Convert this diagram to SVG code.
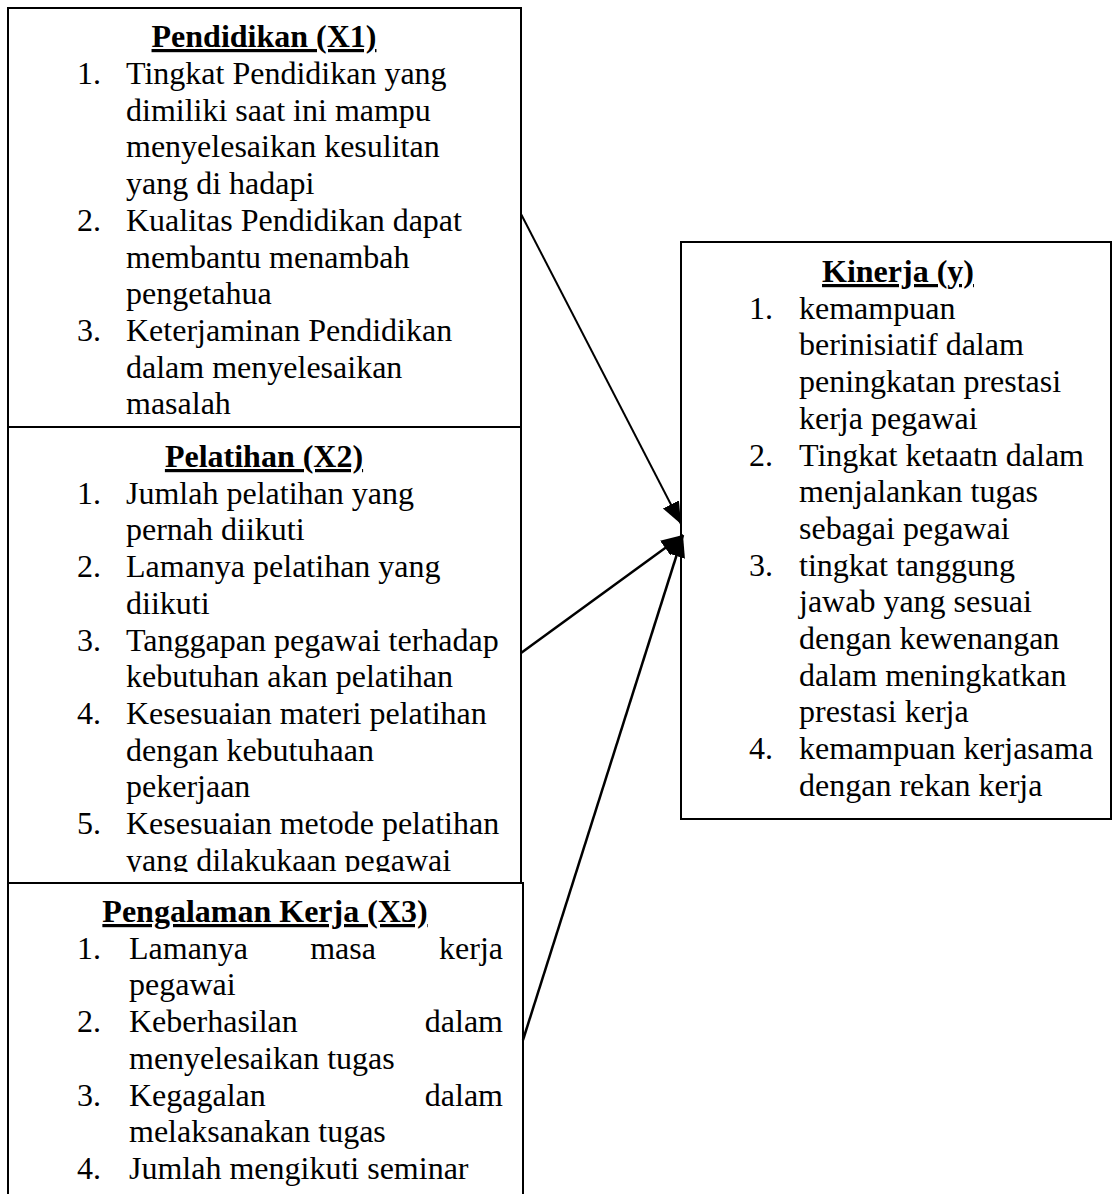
<svg xmlns="http://www.w3.org/2000/svg" width="1115" height="1194" viewBox="0 0 1115 1194">
<style>
.box{fill:#fff;stroke:#000;stroke-width:2}
text{font-family:"Liberation Serif","Times New Roman",serif;font-size:32px;fill:#000}
.title{font-weight:bold;text-decoration:underline;text-anchor:middle}
.end{text-anchor:end}
.mid{text-anchor:middle}
.conn{stroke:#000;stroke-width:2.5;fill:none}
.thin{stroke-width:2}
</style>
<defs>
<marker id="ah" markerUnits="userSpaceOnUse" markerWidth="24" markerHeight="20" refX="22" refY="9" orient="auto">
<path d="M0,0 L22,9 L0,18 Z" fill="#000"/>
</marker>
<clipPath id="clip2"><rect x="8" y="427" width="513" height="445"/></clipPath>
</defs>
<rect width="1115" height="1194" fill="#fff"/>

<g id="pendidikan">
<rect class="box" x="8" y="8" width="513" height="419"/>
<text class="title" x="264" y="47">Pendidikan (X1)</text>
<text x="77" y="84">1.</text>
<text x="126" y="84">Tingkat Pendidikan yang</text>
<text x="126" y="120.7">dimiliki saat ini mampu</text>
<text x="126" y="157.4">menyelesaikan kesulitan</text>
<text x="126" y="194.1">yang di hadapi</text>
<text x="77" y="230.8">2.</text>
<text x="126" y="230.8">Kualitas Pendidikan dapat</text>
<text x="126" y="267.5">membantu menambah</text>
<text x="126" y="304.2">pengetahua</text>
<text x="77" y="340.9">3.</text>
<text x="126" y="340.9">Keterjaminan Pendidikan</text>
<text x="126" y="377.6">dalam menyelesaikan</text>
<text x="126" y="414.3">masalah</text>
</g>

<g id="pelatihan">
<rect class="box" x="8" y="427" width="513" height="456"/>
<g clip-path="url(#clip2)">
<text class="title" x="264" y="467">Pelatihan (X2)</text>
<text x="77" y="503.7">1.</text>
<text x="126" y="503.7">Jumlah pelatihan yang</text>
<text x="126" y="540.4">pernah diikuti</text>
<text x="77" y="577.1">2.</text>
<text x="126" y="577.1">Lamanya pelatihan yang</text>
<text x="126" y="613.8">diikuti</text>
<text x="77" y="650.5">3.</text>
<text x="126" y="650.5">Tanggapan pegawai terhadap</text>
<text x="126" y="687.2">kebutuhan akan pelatihan</text>
<text x="77" y="723.9">4.</text>
<text x="126" y="723.9">Kesesuaian materi pelatihan</text>
<text x="126" y="760.6">dengan kebutuhaan</text>
<text x="126" y="797.3">pekerjaan</text>
<text x="77" y="834">5.</text>
<text x="126" y="834">Kesesuaian metode pelatihan</text>
<text x="126" y="870.7">yang dilakukaan pegawai</text>
</g>
</g>

<g id="pengalaman">
<rect class="box" x="8" y="883" width="515" height="330"/>
<text class="title" x="265" y="922">Pengalaman Kerja (X3)</text>
<text x="77" y="958.7">1.</text>
<text x="129" y="958.7">Lamanya</text>
<text class="mid" x="343" y="958.7">masa</text>
<text class="end" x="503" y="958.7">kerja</text>
<text x="129" y="995.4">pegawai</text>
<text x="77" y="1032.1">2.</text>
<text x="129" y="1032.1">Keberhasilan</text>
<text class="end" x="503" y="1032.1">dalam</text>
<text x="129" y="1068.8">menyelesaikan tugas</text>
<text x="77" y="1105.5">3.</text>
<text x="129" y="1105.5">Kegagalan</text>
<text class="end" x="503" y="1105.5">dalam</text>
<text x="129" y="1142.2">melaksanakan tugas</text>
<text x="77" y="1178.9">4.</text>
<text x="129" y="1178.9">Jumlah mengikuti seminar</text>
</g>

<g id="kinerja">
<rect class="box" x="681" y="242" width="430" height="577"/>
<text class="title" x="898" y="282">Kinerja (y)</text>
<text x="749" y="318.7">1.</text>
<text x="799" y="318.7">kemampuan</text>
<text x="799" y="355.4">berinisiatif dalam</text>
<text x="799" y="392.1">peningkatan prestasi</text>
<text x="799" y="428.8">kerja pegawai</text>
<text x="749" y="465.5">2.</text>
<text x="799" y="465.5">Tingkat ketaatn dalam</text>
<text x="799" y="502.2">menjalankan tugas</text>
<text x="799" y="538.9">sebagai pegawai</text>
<text x="749" y="575.6">3.</text>
<text x="799" y="575.6">tingkat tanggung</text>
<text x="799" y="612.3">jawab yang sesuai</text>
<text x="799" y="649">dengan kewenangan</text>
<text x="799" y="685.7">dalam meningkatkan</text>
<text x="799" y="722.4">prestasi kerja</text>
<text x="749" y="759.1">4.</text>
<text x="799" y="759.1">kemampuan kerjasama</text>
<text x="799" y="795.8">dengan rekan kerja</text>
</g>

<g id="connectors">
<line class="conn thin" x1="521" y1="214" x2="681" y2="524" marker-end="url(#ah)"/>
<line class="conn" x1="521" y1="653" x2="683" y2="535" marker-end="url(#ah)"/>
<line class="conn" x1="523" y1="1040" x2="683" y2="535" marker-end="url(#ah)"/>
</g>
</svg>
